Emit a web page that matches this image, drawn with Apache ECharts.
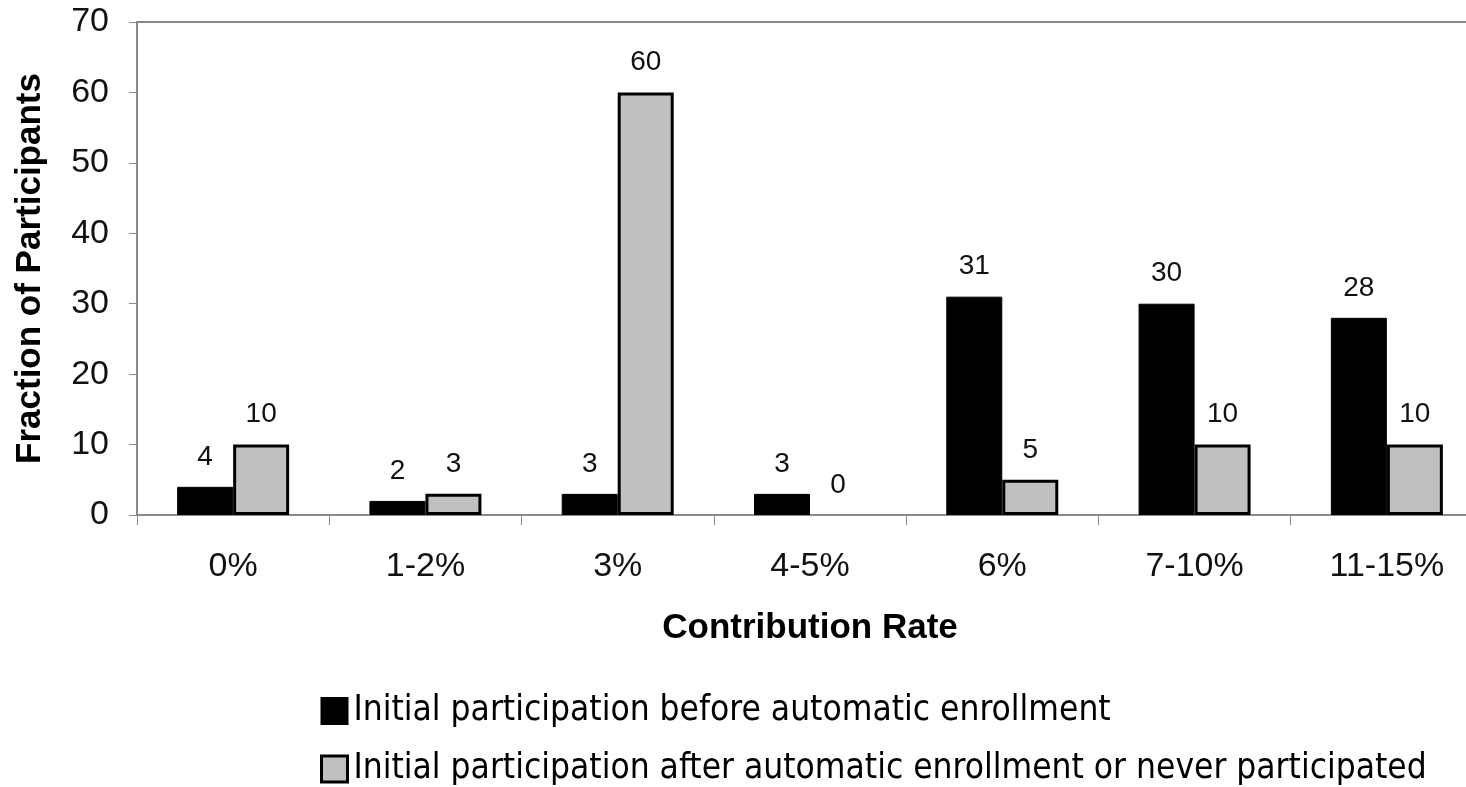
<!DOCTYPE html>
<html>
<head>
<meta charset="utf-8">
<script src="https://cdn.jsdelivr.net/npm/echarts@6/dist/echarts.min.js"></script>
<style>
  html, body { margin: 0; padding: 0; background: #fff; }
  #chart { width: 1466px; height: 787px; }
</style>
</head>
<body>
<div id="chart"></div>
<script>
// Contribution rate buckets
const categories = ['0%', '1-2%', '3%', '4-5%', '6%', '7-10%', '11-15%'];
// Fraction of participants at each rate
const beforeAuto = [4, 2, 3, 3, 31, 30, 28];
const afterAuto = [10, 3, 60, 0, 5, 10, 10];
const seriesNames = [
  'Initial participation before automatic enrollment',
  'Initial participation after automatic enrollment or never participated'
];
const yTicks = { min: 0, max: 70, interval: 10 };

const baseFont = 'Liberation Sans, Arial, Helvetica, sans-serif';
const axisGray = '#8a8a8a';

const chart = echarts.init(document.getElementById('chart'), null, { renderer: 'canvas' });

const labelStyle = {
  show: true,
  position: 'top',
  distance: 16,
  color: '#111',
  fontFamily: baseFont,
  fontSize: 28
};

// zero-height bars get no outline
const toItems = (values, border) => values.map(v => ({
  value: v,
  itemStyle: v === 0 ? { borderWidth: 0 } : { borderWidth: border }
}));

chart.setOption({
  animation: false,
  backgroundColor: '#ffffff',
  grid: {
    left: 137,
    top: 22,
    width: 1346,
    height: 493,
    outerBoundsMode: 'none',
    containLabel: false,
    show: true,
    borderColor: axisGray,
    borderWidth: 2,
    backgroundColor: 'transparent'
  },
  legend: {
    orient: 'vertical',
    left: 315,
    top: 687,
    height: 200,
    itemWidth: 26,
    itemHeight: 26,
    itemGap: 20,
    icon: 'rect',
    textStyle: {
      fontFamily: 'Liberation Sans Narrow, DejaVu Sans Condensed, Arial Narrow, sans-serif',
      fontSize: 35,
      lineHeight: 38,
      color: '#000',
      padding: [0, 0, 0, 1]
    },
    data: [
      { name: seriesNames[0], itemStyle: { color: '#000', borderColor: '#000', borderWidth: 2 } },
      { name: seriesNames[1], itemStyle: { color: '#c0c0c0', borderColor: '#000', borderWidth: 3 } }
    ]
  },
  xAxis: {
    type: 'category',
    data: categories,
    name: 'Contribution Rate',
    nameLocation: 'middle',
    nameGap: 96,
    nameTextStyle: { fontFamily: baseFont, fontWeight: 'bold', fontSize: 35, color: '#000' },
    axisLine: { show: true, lineStyle: { color: axisGray, width: 2 } },
    axisTick: { show: true, alignWithLabel: false, length: 10, lineStyle: { color: axisGray, width: 1 } },
    axisLabel: { fontFamily: baseFont, fontSize: 34, color: '#111', margin: 35 }
  },
  yAxis: {
    type: 'value',
    min: yTicks.min,
    max: yTicks.max,
    interval: yTicks.interval,
    name: 'Fraction of Participants',
    nameLocation: 'middle',
    nameGap: 89,
    nameRotate: 90,
    nameTextStyle: { fontFamily: baseFont, fontWeight: 'bold', fontSize: 35, color: '#000' },
    axisLine: { show: true, lineStyle: { color: axisGray, width: 2 } },
    axisTick: { show: true, length: 8, lineStyle: { color: axisGray, width: 1 } },
    splitLine: { show: false },
    axisLabel: { fontFamily: baseFont, fontSize: 34, color: '#111', margin: 28 }
  },
  series: [
    {
      name: seriesNames[0],
      type: 'bar',
      data: toItems(beforeAuto, 1),
      barWidth: 56,
      barGap: '0%',
      itemStyle: { color: '#000', borderColor: '#000', borderWidth: 1 },
      label: labelStyle
    },
    {
      name: seriesNames[1],
      type: 'bar',
      data: toItems(afterAuto, 3),
      barWidth: 56,
      barGap: '0%',
      itemStyle: { color: '#c0c0c0', borderColor: '#000', borderWidth: 3 },
      label: labelStyle
    }
  ]
});
</script>
</body>
</html>
